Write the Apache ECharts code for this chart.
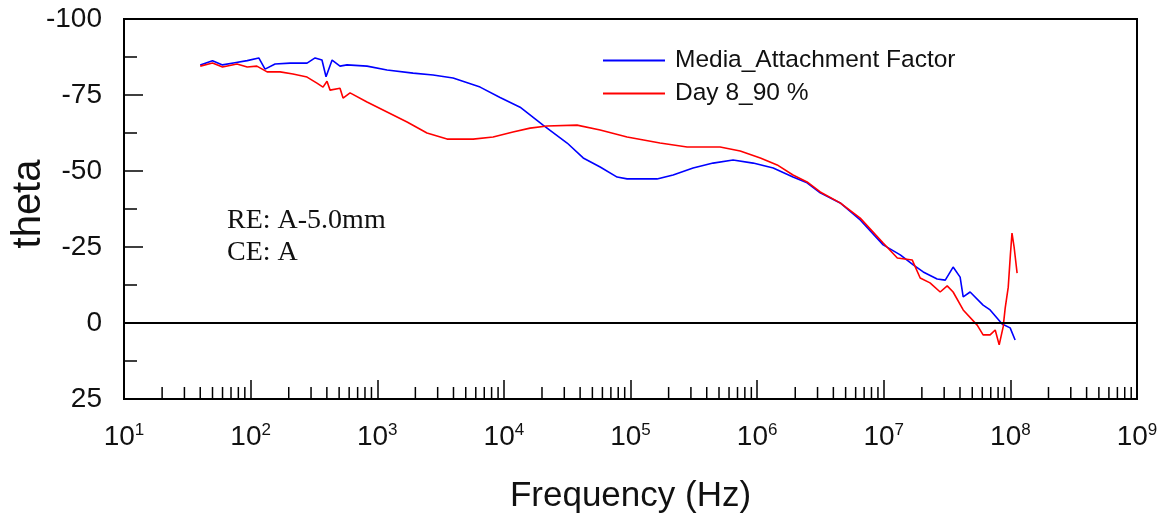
<!DOCTYPE html>
<html>
<head>
<meta charset="utf-8">
<script src="https://cdn.jsdelivr.net/npm/echarts@6/dist/echarts.min.js"></script>
<style>
html,body{margin:0;padding:0;background:#fff;}
#chart{width:1163px;height:516px;}
</style>
</head>
<body>
<div id="chart"></div>
<script>
// ---- Data ----
const seriesNames = ['Media_Attachment Factor', 'Day 8_90 %'];

const mediaFreq  = [40, 50, 60, 75, 94, 116, 130, 156, 205, 279, 323, 366, 394, 440, 508, 577, 830, 1195, 1918, 2760, 3970, 6490, 9330, 13430, 20400, 31600, 42300, 57600, 78400, 94000, 162000, 217000, 312000, 449000, 646000, 930000, 1.34e6, 1.92e6, 2.48e6, 3.15e6, 4.53e6, 6.52e6, 9.9e6, 1.35e7, 1.71e7, 2.05e7, 2.64e7, 3.06e7, 3.53e7, 4.01e7, 4.24e7, 4.81e7, 6.09e7, 6.92e7, 8.61e7, 9.96e7, 1.09e8];
const mediaTheta = [-84.9, -86.3, -84.9, -85.6, -86.3, -87.2, -83.5, -85.2, -85.5, -85.5, -87.2, -86.5, -81.0, -86.5, -84.5, -84.9, -84.5, -83.2, -82.2, -81.6, -80.6, -77.6, -74.2, -71.0, -65.1, -59.2, -54.3, -51.3, -48.0, -47.4, -47.4, -48.7, -51.0, -52.6, -53.6, -52.6, -51.0, -48.0, -46.1, -42.8, -39.5, -33.9, -25.7, -22.4, -19.1, -16.8, -14.5, -14.1, -18.4, -15.1, -8.6, -10.2, -5.9, -4.3, 0.3, 1.6, 5.6];

const day8Freq  = [40, 50, 60, 78, 94, 112, 135, 171, 216, 279, 334, 373, 401, 424, 508, 537, 610, 830, 1195, 1720, 2470, 3560, 5720, 8220, 11800, 16100, 21900, 37800, 57600, 94000, 171000, 280000, 510000, 735000, 1.06e6, 1.44e6, 1.92e6, 2.48e6, 3.15e6, 4.53e6, 6.52e6, 9.9e6, 1.28e7, 1.68e7, 1.94e7, 2.32e7, 2.79e7, 3.17e7, 3.53e7, 4.24e7, 5.47e7, 6.09e7, 6.92e7, 7.59e7, 8.16e7, 8.77e7, 9.1e7, 9.62e7, 1.0e8, 1.03e8, 1.07e8, 1.13e8];
const day8Theta = [-84.5, -85.5, -84.2, -85.2, -84.2, -84.5, -82.6, -82.6, -81.9, -80.9, -78.9, -77.6, -79.5, -76.6, -77.2, -74.0, -75.7, -72.7, -69.4, -66.1, -62.5, -60.5, -60.5, -61.2, -62.8, -64.1, -64.8, -65.1, -63.5, -61.2, -59.2, -57.9, -57.9, -56.6, -54.3, -52.0, -48.7, -46.4, -43.1, -39.5, -34.5, -26.3, -21.4, -20.7, -14.8, -13.2, -10.2, -12.2, -10.2, -4.3, 0.7, 3.9, 3.9, 2.3, 7.2, 1.3, -4.9, -11.8, -22.4, -29.6, -25.0, -16.4];

// axis ticks
const xMin = 10, xMax = 1e9;
const yMin = -100, yMax = 25, yStep = 25;
const minorTickValues = [];
for (let d = 1; d < 9; d++) {
  for (let m = 2; m <= 9; m++) minorTickValues.push([m * Math.pow(10, d)]);
}
const annotationLines = ['RE: A-5.0mm', 'CE: A'];

const zip = (a, b) => a.map((v, i) => [v, b[i]]);

const sans = "'Liberation Sans', Arial, sans-serif";

const chart = echarts.init(document.getElementById('chart'), null, {renderer: 'canvas'});
chart.setOption({
  animation: false,
  backgroundColor: '#fff',
  grid: {left: 124, top: 19, right: 26, bottom: 117, show: true, borderColor: '#000', borderWidth: 2, containLabel: false, outerBoundsMode: 'none'},
  legend: {
    orient: 'vertical', left: 598, top: 43, itemWidth: 62, itemHeight: 2, itemGap: 8,
    icon: 'rect',
    data: seriesNames,
    textStyle: {fontFamily: sans, fontSize: 24.5, color: '#111', padding: [0, 0, 0, 5]}
  },
  xAxis: {
    type: 'log', logBase: 10, min: xMin, max: xMax,
    name: 'Frequency (Hz)', nameLocation: 'middle', nameGap: 80,
    nameTextStyle: {fontFamily: sans, fontSize: 35, color: '#111'},
    axisLine: {show: true, onZero: false, lineStyle: {color: '#000', width: 2}},
    axisTick: {show: true, inside: true, length: 19, lineStyle: {color: '#000', width: 1.5}},
    splitLine: {show: false},
    axisLabel: {
      margin: 23,
      formatter: v => '{b|10}{e|' + Math.round(Math.log10(v)) + '}',
      rich: {
        b: {fontFamily: sans, fontSize: 28, lineHeight: 30, color: '#111'},
        e: {fontFamily: sans, fontSize: 17, lineHeight: 2, verticalAlign: 'top', color: '#111'}
      }
    }
  },
  yAxis: {
    type: 'value', inverse: true, min: yMin, max: yMax, interval: yStep,
    name: 'theta', nameLocation: 'middle', nameGap: 75, nameRotate: 90, nameMoveOverlap: false,
    nameTextStyle: {fontFamily: sans, fontSize: 40, color: '#111', padding: [0, 0, 0, 10]},
    axisLine: {show: true, onZero: false, lineStyle: {color: '#000', width: 2}},
    axisTick: {show: true, inside: true, length: 19, lineStyle: {color: '#000', width: 1.5}},
    minorTick: {show: true, splitNumber: 2, length: 13, lineStyle: {color: '#000', width: 1.5}},
    splitLine: {show: false},
    minorSplitLine: {show: false},
    axisLabel: {margin: 22, fontFamily: sans, fontSize: 28, color: '#111'}
  },
  graphic: [{
    type: 'text', left: 227, top: 205, silent: true,
    style: {text: annotationLines.join('\n'), fontFamily: "'Liberation Serif', 'Times New Roman', serif", fontSize: 28, lineHeight: 32, fill: '#111'}
  }],
  series: [
    {
      name: seriesNames[0], type: 'line', symbol: 'none', data: zip(mediaFreq, mediaTheta),
      lineStyle: {color: '#0000ff', width: 1.6}, itemStyle: {color: '#0000ff'},
      markLine: {
        silent: true, symbol: ['none', 'none'], label: {show: false},
        lineStyle: {color: '#000', width: 1.8, type: 'solid'},
        data: [{yAxis: 0}]
      }
    },
    {
      name: seriesNames[1], type: 'line', symbol: 'none', data: zip(day8Freq, day8Theta),
      lineStyle: {color: '#ff0000', width: 1.6}, itemStyle: {color: '#ff0000'}
    },
    {
      type: 'custom', silent: true, data: minorTickValues, encode: {x: 0},
      renderItem: (params, api) => {
        const p = api.coord([api.value(0), yMax]);
        return {type: 'line', shape: {x1: p[0], y1: p[1], x2: p[0], y2: p[1] - 12}, style: {stroke: '#000', lineWidth: 1.5}};
      }
    }
  ]
});
</script>
</body>
</html>
